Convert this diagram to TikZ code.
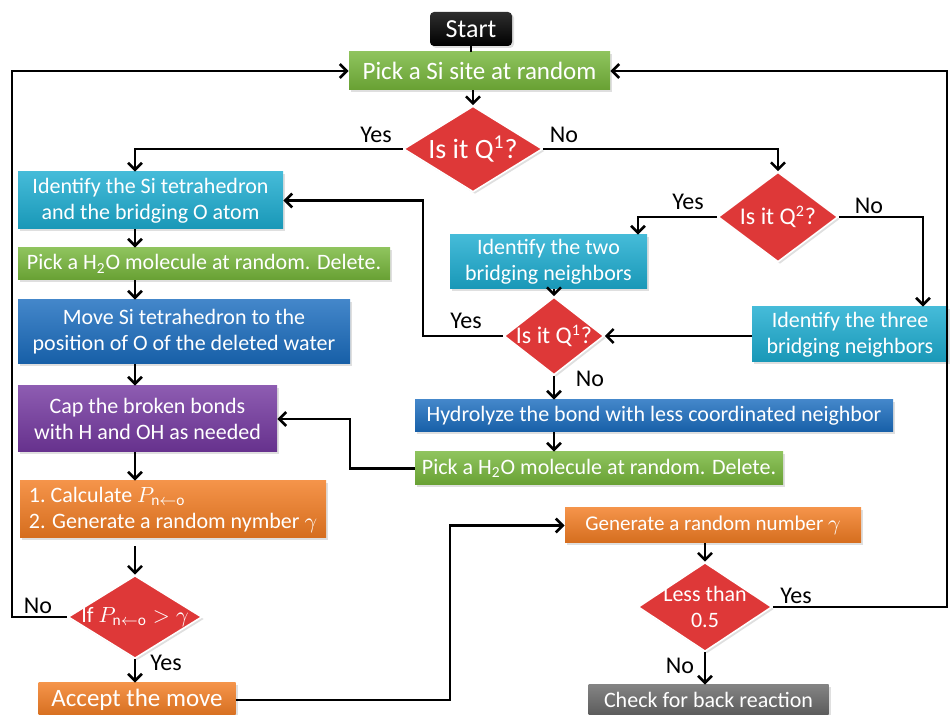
\documentclass[tikz,border=0pt]{standalone}
\usepackage{fontspec}
\setmainfont{Carlito}
\usepackage{tikz}
\usetikzlibrary{arrows.meta,shapes.geometric,shadows}

\definecolor{flowgreen}{RGB}{118,182,58}
\definecolor{flowcyan}{RGB}{28,172,208}
\definecolor{flowblue}{RGB}{26,108,190}
\definecolor{flowpurple}{RGB}{116,56,160}
\definecolor{floworange}{RGB}{242,124,34}
\definecolor{flowred}{RGB}{222,56,56}
\definecolor{flowgray}{RGB}{104,104,104}

\begin{document}
\begin{tikzpicture}[x=0.5pt,y=-0.5pt,font=\fontsize{11}{13}\selectfont,
  box/.style={rectangle,text=white,align=center,inner sep=0pt,top color=#1!82!white,bottom color=#1!88!black,drop shadow={opacity=0.25,shadow xshift=1pt,shadow yshift=-1pt}},
  decision/.style={diamond,draw=white,line width=0.8pt,fill=flowred,inner sep=0pt,drop shadow={opacity=0.25,shadow xshift=1pt,shadow yshift=-1pt},label={[text=white,align=center]center:#1}},
  lbl/.style={text=black,inner sep=0pt,font=\fontsize{12}{14}\selectfont},
  link/.style={line width=1.3pt},
  arr/.style={line width=1.3pt,-{Straight Barb[length=3.5pt,width=7pt]}}]
\useasboundingbox (0,0) rectangle (950,715);
% boxes and decisions
\node[box=black,rounded corners=2pt,minimum width=41pt,minimum height=17pt,font=\fontsize{13}{15}\selectfont] (start) at (471,29) {Start};
\node[box=flowgreen,minimum width=130.5pt,minimum height=19pt,font=\fontsize{12.5}{15}\selectfont] (pick) at (479.5,71) {Pick a Si site at random};
\node[decision={\fontsize{14}{16}\selectfont Is it Q\textsuperscript{1}?},minimum width=69.5pt,minimum height=43pt] (q1) at (473,149) {};
\node[decision={\fontsize{12}{14}\selectfont Is it Q\textsuperscript{2}?},minimum width=60pt,minimum height=45pt] (q2) at (778,217) {};
\node[box=flowcyan,minimum width=132.5pt,minimum height=28.5pt] (tet) at (150.5,200.5) {Identify the Si tetrahedron\\and the bridging O atom};
\node[box=flowgreen,minimum width=186pt,minimum height=16pt] (pickw) at (204,264) {Pick a H\textsubscript{2}O molecule at random. Delete.};
\node[box=flowblue,minimum width=166pt,minimum height=32pt] (move) at (184,332) {Move Si tetrahedron to the\\position of O of the deleted water};
\node[box=flowpurple,minimum width=129.5pt,minimum height=33pt] (cap) at (147.5,419) {Cap the broken bonds\\with H and OH as needed};
\node[box=floworange,align=left,minimum width=153pt,minimum height=28.5pt] (calc) at (173,509.5) {\frenchspacing 1. Calculate $P_{\mathrm{n}\leftarrow\mathrm{o}}$\\2. Generate a random nymber $\gamma$};
\node[decision={If $P_{\mathrm{n}\leftarrow\mathrm{o}}>\gamma$},minimum width=67pt,minimum height=41.5pt] (ifp) at (135,617) {};
\node[box=floworange,minimum width=98.5pt,minimum height=17pt,font=\fontsize{12.5}{14}\selectfont] (acc) at (137,700) {Accept the move};
\node[box=flowcyan,minimum width=98.5pt,minimum height=27pt] (two) at (548.5,262) {Identify the two\\bridging neighbors};
\node[decision={\fontsize{12}{14}\selectfont Is it Q\textsuperscript{1}?},minimum width=50pt,minimum height=39pt] (q1b) at (554,336) {};
\node[box=flowcyan,minimum width=98pt,minimum height=27.5pt] (three) at (850,334.5) {Identify the three\\bridging neighbors};
\node[box=flowblue,minimum width=239pt,minimum height=16pt] (hyd) at (654,416) {Hydrolyze the bond with less coordinated neighbor};
\node[box=flowgreen,minimum width=184pt,minimum height=16.5pt] (pickb) at (599,468.5) {Pick a H\textsubscript{2}O molecule at random. Delete.};
\node[box=floworange,minimum width=148pt,minimum height=17.5pt,font=\fontsize{10.5}{13}\selectfont] (gen) at (713,525.5) {Generate a random number $\gamma$};
\node[decision={Less than\\0.5},minimum width=67pt,minimum height=44.5pt] (less) at (705,607) {};
\node[box=flowgray,minimum width=120pt,minimum height=15pt] (check) at (708.5,700) {Check for back reaction};
% branch labels
\node[lbl] (y1) at (376,135) {Yes};
\node[lbl] (n1) at (564,135) {No};
\node[lbl] (y2) at (688,202) {Yes};
\node[lbl] (n2) at (869,206) {No};
\node[lbl] (y3) at (466,321) {Yes};
\node[lbl] (n3) at (590,379) {No};
\node[lbl] (n4) at (38,606) {No};
\node[lbl] (y4) at (166,663) {Yes};
\node[lbl] (y5) at (796,596) {Yes};
\node[lbl] (n5) at (680,666) {No};
% columns for the bends
\coordinate (lcol) at (135,0);
\coordinate (lloop) at (12,0);
\coordinate (rloop) at (947,0);
\coordinate (ycol) at (638,0);
\coordinate (ncol) at (923,0);
\coordinate (bcol) at (423,0);
\coordinate (hcol) at (350,0);
\coordinate (acol) at (450,0);
% connectors
\draw[link] (start) -- (start |- pick.north);
\draw[arr] (q1.north |- pick.south) -- (q1.north);
\draw[arr] (q1.west) -| (lcol |- tet.north);
\draw[arr] (q1.east) -| (q2.north);
\draw[arr] (q2.west) -| (ycol |- two.north);
\draw[arr] (q2.east) -| (ncol |- three.north);
\draw[arr] (q1b.north |- two.south) -- (q1b.north);
\draw[arr] (three.west |- q1b) -- (q1b.east);
\draw[arr] (q1b.west) -| (bcol |- tet.east) -- (tet.east);
\draw[arr] (q1b.south) -- (q1b.south |- hyd.north);
\draw[arr] (q1b.south |- hyd.south) -- (q1b.south |- pickb.north);
\draw[arr] (pickb.west) -| (hcol |- cap.east) -- (cap.east);
\draw[arr] (lcol |- tet.south) -- (lcol |- pickw.north);
\draw[arr] (lcol |- pickw.south) -- (lcol |- move.north);
\draw[arr] (lcol |- move.south) -- (lcol |- cap.north);
\draw[arr] (lcol |- cap.south) -- (lcol |- calc.north);
\draw[arr] ([yshift=-4pt]lcol |- calc.south) -- (ifp.north);
\draw[arr] (ifp.south) -- (ifp.south |- acc.north);
\draw[arr] (ifp.west) -| (lloop |- pick.west) -- (pick.west);
\draw[arr] (acc.east) -| (acol |- gen.west) -- (gen.west);
\draw[arr] (less.north |- gen.south) -- (less.north);
\draw[arr] (less.south) -- (less.south |- check.north);
\draw[arr] (less.east) -| (rloop |- pick.east) -- (pick.east);
\end{tikzpicture}
\end{document}
